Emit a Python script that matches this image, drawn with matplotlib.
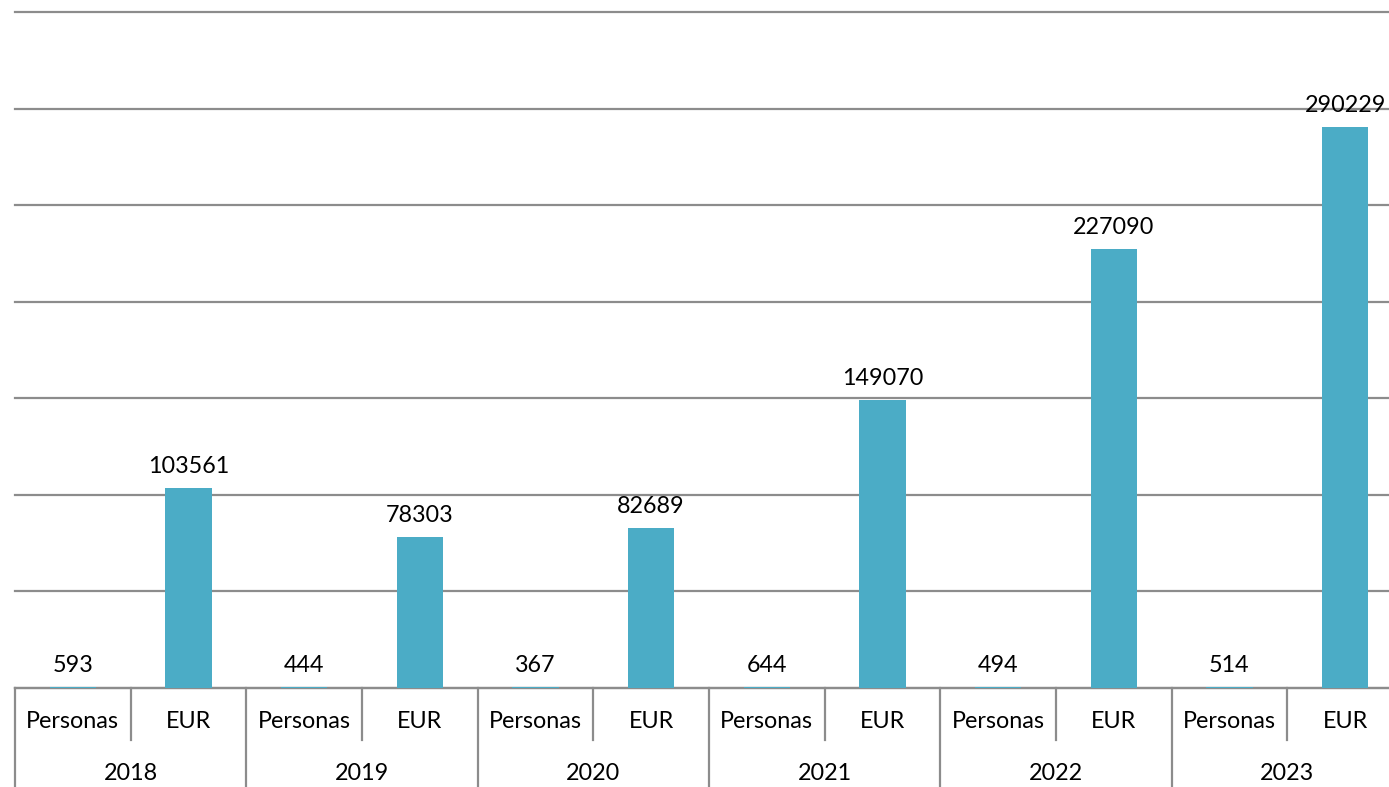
import matplotlib
matplotlib.use("Agg")
import matplotlib.pyplot as plt
from matplotlib.transforms import blended_transform_factory

years = ["2018", "2019", "2020", "2021", "2022", "2023"]
sub_labels = ["Personas", "EUR"]
personas = [593, 444, 367, 644, 494, 514]
eur = [103561, 78303, 82689, 149070, 227090, 290229]

plt.rcParams['font.family'] = ['Lato', 'DejaVu Sans']

W, H = 1389, 787
fig = plt.figure(figsize=(W / 100, H / 100), dpi=100)
left = 15 / W
right = 1403 / W
bottom = (H - 688) / H
top = 1 - 12 / H
ax = fig.add_axes([left, bottom, right - left, top - bottom])

values = []
labels = []
for p, e in zip(personas, eur):
    values += [p, e]
    labels += sub_labels
x = list(range(len(values)))
color = "#4BACC6"
ax.bar(x, values, width=0.4, color=color, zorder=3)

ax.set_xlim(-0.5, len(values) - 0.5)
ax.set_ylim(0, 350000)
ax.set_yticks(range(0, 350001, 50000))
ax.yaxis.grid(True, color="#8c8c8c", linewidth=1.6, zorder=0)
for gl in ax.get_ygridlines():
    gl.set_clip_on(False)
ax.tick_params(left=False, labelleft=False, bottom=False, labelbottom=False)
for s in ["left", "right", "top"]:
    ax.spines[s].set_visible(False)
ax.spines["bottom"].set_color("#8c8c8c")
ax.spines["bottom"].set_linewidth(1.6)

fs = 16.8
for xi, v in zip(x, values):
    ax.annotate(str(v), (xi, v), xytext=(0, 8), textcoords="offset points",
                ha="center", va="bottom", fontsize=fs, color="black")

trans = blended_transform_factory(ax.transData, fig.transFigure)
y_base = bottom
y_sub_end = 1 - 740 / H
y_sub_text = 1 - 722 / H
y_year_text = 1 - 774 / H
lc = "#8c8c8c"
for xi, lab in zip(x, labels):
    ax.text(xi, y_sub_text, lab, transform=trans, ha="center", va="center",
            fontsize=fs, color="black", clip_on=False)
for i in range(len(values) + 1):
    xb = i - 0.5
    y1 = 0 if i % 2 == 0 else y_sub_end
    ax.plot([xb, xb], [y_base, y1], transform=trans, color=lc, lw=1.6,
            clip_on=False)
for k, yr in enumerate(years):
    ax.text(2 * k + 0.5, y_year_text, yr, transform=trans, ha="center",
            va="center", fontsize=fs, color="black", clip_on=False)

fig.savefig("out.png", dpi=100)
